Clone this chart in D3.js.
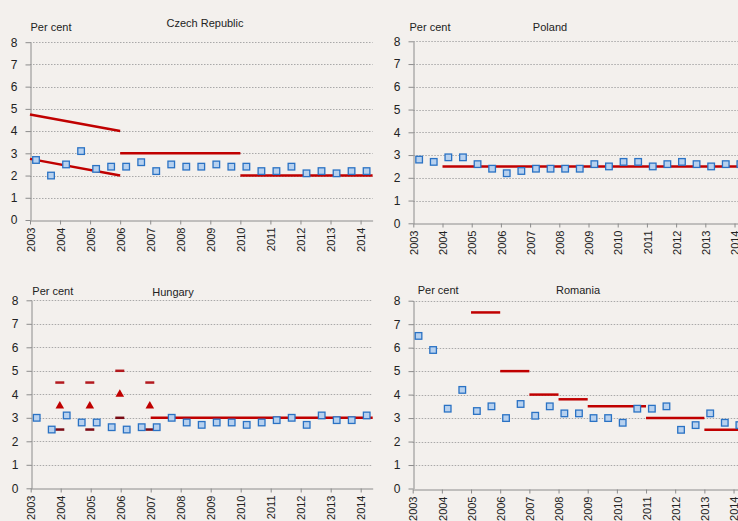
<!DOCTYPE html>
<html>
<head>
<meta charset="utf-8">
<script src="https://cdn.jsdelivr.net/npm/d3@7"></script>
<style>
  body { margin: 0; background: #f3f0ed; }
  svg { display: block; font-family: "Liberation Sans", Arial, sans-serif; }
  .grid line { stroke: #a9a9a9; stroke-width: 1; stroke-dasharray: 1.5,1.5; }
  .axis path, .axis line { stroke: #8c8c8c; }
  .axis text { fill: #222; font-size: 11px; }
  .yaxis text { font-size: 12px; }
</style>
</head>
<body>
<div id="chart"></div>
<script>
// tick labels and observation dates (half-yearly)
var yearTicks = [2003, 2004, 2005, 2006, 2007, 2008, 2009, 2010, 2011, 2012, 2013, 2014];
var yTicks = [0, 1, 2, 3, 4, 5, 6, 7, 8];
var obsDates = [2003.2, 2003.7, 2004.2, 2004.7, 2005.2, 2005.7, 2006.2, 2006.7, 2007.2, 2007.7,
  2008.2, 2008.7, 2009.2, 2009.7, 2010.2, 2010.7, 2011.2, 2011.7, 2012.2, 2012.7, 2013.2, 2013.7, 2014.2];

// observed values, per cent
var czechValues   = [2.7, 2.0, 2.5, 3.1, 2.3, 2.4, 2.4, 2.6, 2.2, 2.5, 2.4, 2.4, 2.5, 2.4, 2.4, 2.2, 2.2, 2.4, 2.1, 2.2, 2.1, 2.2, 2.2];
var polandValues  = [2.8, 2.7, 2.9, 2.9, 2.6, 2.4, 2.2, 2.3, 2.4, 2.4, 2.4, 2.4, 2.6, 2.5, 2.7, 2.7, 2.5, 2.6, 2.7, 2.6, 2.5, 2.6, 2.6];
var hungaryValues = [3.0, 2.5, 3.1, 2.8, 2.8, 2.6, 2.5, 2.6, 2.6, 3.0, 2.8, 2.7, 2.8, 2.8, 2.7, 2.8, 2.9, 3.0, 2.7, 3.1, 2.9, 2.9, 3.1];
var romaniaValues = [6.5, 5.9, 3.4, 4.2, 3.3, 3.5, 3.0, 3.6, 3.1, 3.5, 3.2, 3.2, 3.0, 3.0, 2.8, 3.4, 3.4, 3.5, 2.5, 2.7, 3.2, 2.8, 2.7];

// target segments [x1, y1, x2, y2]
var czechTargets   = [[2003, 4.75, 2006, 4.0], [2003, 2.75, 2006, 2.0], [2006, 3.0, 2010, 3.0], [2010, 2.0, 2014.4, 2.0]];
var polandTargets  = [[2004, 2.5, 2014.4, 2.5]];
var hungaryTargets = [[2007, 3.0, 2014.4, 3.0]];
var romaniaTargets = [[2005, 7.5, 2006, 7.5], [2006, 5.0, 2007, 5.0], [2007, 4.0, 2008, 4.0], [2008, 3.8, 2009, 3.8],
  [2009, 3.5, 2011, 3.5], [2011, 3.0, 2013, 3.0], [2013, 2.5, 2014.4, 2.5]];

// Hungary's tolerance bands and point targets at year end
var hungaryBandDates = [2003.97, 2004.97, 2005.97, 2006.97];
var hungaryUpper = [4.5, 4.5, 5.0, 4.5];
var hungaryLower = [2.5, 2.5, 3.0, 2.5];
var hungaryPoint = [3.5, 3.5, 4.0, 3.5];

var W = 738, H = 521;
var svg = d3.select("#chart").append("svg").attr("width", W).attr("height", H);
svg.append("rect").attr("width", W).attr("height", H).attr("fill", "#f3f0ed");

var panels = [
  {name: "Czech Republic", values: czechValues, targets: czechTargets,
   left: 30, right: 372.6, top: 42.2, bottom: 220, titleX: 205, titleY: 27, unitX: 30.5, unitY: 31},
  {name: "Poland", values: polandValues, targets: polandTargets,
   left: 413.3, right: 746.2, top: 41.3, bottom: 223.3, titleX: 550, titleY: 30.5, unitX: 409.5, unitY: 30.5},
  {name: "Hungary", values: hungaryValues, targets: hungaryTargets,
   left: 30.7, right: 372.7, top: 300.3, bottom: 488.3, titleX: 173, titleY: 296, unitX: 32.3, unitY: 295, bands: true},
  {name: "Romania", values: romaniaValues, targets: romaniaTargets,
   left: 412.7, right: 745.2, top: 300.7, bottom: 488.5, titleX: 578, titleY: 294, unitX: 417.7, unitY: 294}
];

panels.forEach(function(p) {
  var x = d3.scaleLinear().domain([2003, 2014.4]).range([p.left, p.right]);
  var y = d3.scaleLinear().domain([0, 8]).range([p.bottom, p.top]);
  var g = svg.append("g");

  // gridlines
  g.append("g").attr("class", "grid")
    .selectAll("line").data(yTicks.filter(function(d) { return d > 0; })).enter()
    .append("line")
    .attr("x1", p.left).attr("x2", p.right)
    .attr("y1", function(d) { return Math.round(y(d)) + 0.5; })
    .attr("y2", function(d) { return Math.round(y(d)) + 0.5; });

  // axes
  var yAxis = d3.axisLeft(y).tickValues(yTicks).tickSize(5).tickPadding(8).tickSizeOuter(0);
  g.append("g").attr("class", "axis yaxis")
    .attr("transform", "translate(" + Math.round(p.left) + ".5,0)")
    .call(yAxis);

  var xAxis = d3.axisBottom(x).tickValues(yearTicks).tickFormat(d3.format("d")).tickSize(4).tickSizeOuter(0);
  var gx = g.append("g").attr("class", "axis")
    .attr("transform", "translate(0," + Math.round(p.bottom) + ".5)")
    .call(xAxis);
  gx.selectAll("text")
    .attr("transform", "rotate(-90)")
    .attr("text-anchor", "end")
    .attr("x", -7).attr("y", 0).attr("dy", "0.38em");

  // texts
  g.append("text").attr("x", p.unitX).attr("y", p.unitY)
    .attr("font-size", 11).attr("fill", "#222").text("Per cent");
  g.append("text").attr("x", p.titleX).attr("y", p.titleY)
    .attr("text-anchor", "middle").attr("font-size", 11).attr("fill", "#222").text(p.name);

  // target lines
  g.selectAll(".target").data(p.targets).enter()
    .append("line")
    .attr("x1", function(d) { return x(d[0]); }).attr("y1", function(d) { return y(d[1]); })
    .attr("x2", function(d) { return x(d[2]); }).attr("y2", function(d) { return y(d[3]); })
    .attr("stroke", "#c00000").attr("stroke-width", 2.5);

  if (p.bands) {
    var bandData = hungaryBandDates.map(function(d, i) {
      return {x: d, up: hungaryUpper[i], lo: hungaryLower[i], pt: hungaryPoint[i]};
    });
    g.selectAll(".up").data(bandData).enter().append("line")
      .attr("x1", function(d) { return x(d.x) - 4.5; }).attr("x2", function(d) { return x(d.x) + 4.5; })
      .attr("y1", function(d) { return y(d.up); }).attr("y2", function(d) { return y(d.up); })
      .attr("stroke", "#b3191e").attr("stroke-width", 2.5);
    g.selectAll(".lo").data(bandData).enter().append("line")
      .attr("x1", function(d) { return x(d.x) - 4.5; }).attr("x2", function(d) { return x(d.x) + 4.5; })
      .attr("y1", function(d) { return y(d.lo); }).attr("y2", function(d) { return y(d.lo); })
      .attr("stroke", "#7a0a14").attr("stroke-width", 2.5);
    g.selectAll(".pt").data(bandData).enter().append("path")
      .attr("d", d3.symbol().type(d3.symbolTriangle).size(32))
      .attr("transform", function(d) { return "translate(" + x(d.x) + "," + y(d.pt) + ")"; })
      .attr("fill", "#c00000");
  }

  // observations
  g.selectAll(".obs").data(p.values).enter()
    .append("rect")
    .attr("x", function(d, i) { return x(obsDates[i]) - 3.3; })
    .attr("y", function(d) { return y(d) - 3.3; })
    .attr("width", 6.6).attr("height", 6.6)
    .attr("fill", "#b7d1ef").attr("stroke", "#2a72c4").attr("stroke-width", 1.3);
});
</script>
</body>
</html>
